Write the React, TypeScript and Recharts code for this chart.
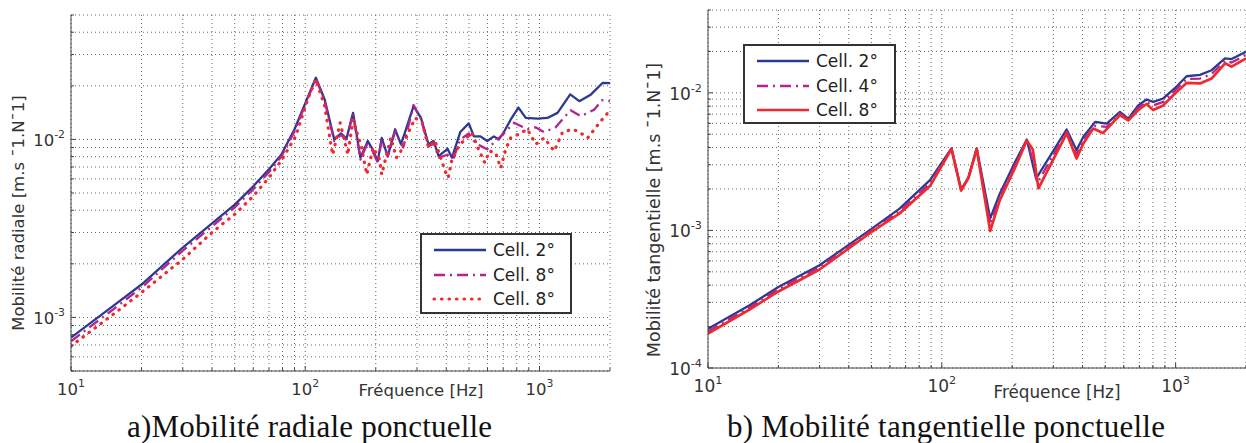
import React from 'react';
import { LineChart, Line, XAxis, YAxis, CartesianGrid, Legend } from 'recharts';

// frequency ticks (log axis, decades + minor)
const freqTicks = [10, 20, 30, 40, 50, 60, 70, 80, 90, 100, 200, 300, 400, 500, 600, 700, 800, 900, 1000, 2000];
const radialTicks = [
  0.0005, 0.0006, 0.0007, 0.0008, 0.0009,
  0.001, 0.002, 0.003, 0.004, 0.005, 0.006, 0.007, 0.008, 0.009,
  0.01, 0.02, 0.03, 0.04, 0.05,
];
const tangTicks = [
  0.0001, 0.0002, 0.0003, 0.0004, 0.0005, 0.0006, 0.0007, 0.0008, 0.0009,
  0.001, 0.002, 0.003, 0.004, 0.005, 0.006, 0.007, 0.008, 0.009,
  0.01, 0.02, 0.03, 0.04,
];

// a) radial mobility
const radF2 = [10, 15, 20, 30, 40, 50, 60, 70, 79, 90, 111, 121, 133, 142, 150, 160, 172, 185, 192, 204, 212, 225, 242, 256, 265, 290, 312, 336, 353, 371, 405, 423, 459, 499, 525, 560, 598, 639, 671, 705, 753, 813, 874, 980, 1081, 1194, 1353, 1479, 1660, 1862, 2000];
const radV2 = [7.7e-4, 1.15e-3, 1.53e-3, 2.47e-3, 3.38e-3, 4.3e-3, 5.45e-3, 6.8e-3, 8.2e-3, 1.14e-2, 2.22e-2, 1.68e-2, 1.0e-2, 1.08e-2, 1.01e-2, 1.41e-2, 7.9e-3, 9.8e-3, 9.0e-3, 7.55e-3, 1.02e-2, 8.06e-3, 1.14e-2, 9.4e-3, 1.07e-2, 1.54e-2, 1.32e-2, 9.4e-3, 9.8e-3, 8.06e-3, 8.86e-3, 7.9e-3, 1.1e-2, 1.23e-2, 1.04e-2, 1.04e-2, 9.8e-3, 1.04e-2, 1.0e-2, 1.1e-2, 1.29e-2, 1.51e-2, 1.32e-2, 1.31e-2, 1.32e-2, 1.41e-2, 1.79e-2, 1.64e-2, 1.79e-2, 2.08e-2, 2.07e-2];

const radF8a = [10, 15, 20, 30, 40, 50, 60, 70, 79, 90, 111, 121, 133, 142, 150, 160, 172, 185, 192, 204, 212, 225, 242, 262, 290, 312, 336, 353, 371, 405, 423, 459, 499, 525, 560, 598, 639, 705, 778, 888, 961, 1047, 1172, 1358, 1500, 1714, 1845, 2000];
const radV8a = [7.35e-4, 1.1e-3, 1.47e-3, 2.37e-3, 3.25e-3, 4.15e-3, 5.25e-3, 6.55e-3, 8.0e-3, 1.11e-2, 2.2e-2, 1.65e-2, 9.8e-3, 1.06e-2, 9.9e-3, 1.4e-2, 7.7e-3, 9.6e-3, 8.8e-3, 7.4e-3, 9.9e-3, 8.0e-3, 1.11e-2, 9.0e-3, 1.56e-2, 1.3e-2, 9.1e-3, 9.6e-3, 7.9e-3, 8.2e-3, 7.4e-3, 1.0e-2, 1.08e-2, 9.8e-3, 9.2e-3, 8.8e-3, 9.6e-3, 1.08e-2, 1.24e-2, 1.14e-2, 1.17e-2, 1.1e-2, 1.17e-2, 1.46e-2, 1.35e-2, 1.47e-2, 1.66e-2, 1.64e-2];

const radF8b = [10, 15, 20, 30, 40, 50, 60, 70, 79, 91, 103, 111, 121, 129, 131, 141, 152, 160, 174, 183, 195, 208, 212, 232, 245, 255, 276, 295, 316, 336, 358, 396, 408, 423, 444, 473, 515, 545, 584, 612, 650, 683, 718, 753, 815, 888, 966, 1047, 1156, 1255, 1387, 1479, 1607, 1803, 1958, 2000];
const radV8b = [6.9e-4, 1.03e-3, 1.38e-3, 2.12e-3, 3.0e-3, 3.8e-3, 4.8e-3, 6.1e-3, 7.6e-3, 1.04e-2, 1.71e-2, 2.17e-2, 1.54e-2, 9.2e-3, 8.2e-3, 1.24e-2, 8.2e-3, 1.29e-2, 9.0e-3, 6.35e-3, 9.0e-3, 7.7e-3, 6.35e-3, 1.02e-2, 7.9e-3, 8.5e-3, 1.1e-2, 1.32e-2, 1.24e-2, 9.0e-3, 9.8e-3, 6.6e-3, 6.1e-3, 7.7e-3, 8.8e-3, 9.8e-3, 1.09e-2, 9.0e-3, 7.4e-3, 8.6e-3, 8.4e-3, 6.9e-3, 8.8e-3, 1.02e-2, 1.07e-2, 1.14e-2, 9.4e-3, 1.02e-2, 8.6e-3, 1.1e-2, 1.14e-2, 1.1e-2, 1.02e-2, 1.24e-2, 1.41e-2, 1.35e-2];

// b) tangential mobility
const tanF2 = [10, 15, 20, 30, 49, 66, 89, 110, 121, 130, 141, 161, 177, 206, 231, 253, 342, 377, 403, 453, 507, 578, 627, 692, 751, 802, 885, 993, 1114, 1271, 1425, 1626, 1735, 2000];
const tanV2 = [1.93e-4, 2.85e-4, 3.88e-4, 5.58e-4, 1.0e-3, 1.44e-3, 2.32e-3, 3.95e-3, 1.98e-3, 2.43e-3, 3.95e-3, 1.22e-3, 1.85e-3, 3.15e-3, 4.58e-3, 2.38e-3, 5.42e-3, 3.83e-3, 4.8e-3, 6.15e-3, 5.98e-3, 7.27e-3, 6.5e-3, 8.1e-3, 8.95e-3, 8.6e-3, 9.1e-3, 1.08e-2, 1.32e-2, 1.35e-2, 1.46e-2, 1.78e-2, 1.76e-2, 1.99e-2];

const tanF4 = [10, 15, 20, 30, 49, 66, 89, 110, 121, 130, 141, 161, 177, 206, 231, 248, 256, 342, 377, 403, 453, 507, 578, 627, 692, 751, 802, 885, 993, 1114, 1271, 1425, 1626, 1735, 2000];
const tanV4 = [1.85e-4, 2.74e-4, 3.74e-4, 5.4e-4, 9.75e-4, 1.38e-3, 2.2e-3, 3.93e-3, 1.96e-3, 2.42e-3, 3.93e-3, 1.1e-3, 1.75e-3, 3.0e-3, 4.55e-3, 3.0e-3, 2.2e-3, 5.25e-3, 3.55e-3, 4.55e-3, 5.75e-3, 5.65e-3, 7.1e-3, 6.4e-3, 7.8e-3, 8.6e-3, 8.1e-3, 8.6e-3, 1.04e-2, 1.26e-2, 1.27e-2, 1.37e-2, 1.72e-2, 1.66e-2, 1.89e-2];

const tanF8 = [10, 15, 20, 30, 49, 66, 89, 110, 121, 130, 141, 161, 177, 206, 231, 245, 259, 342, 377, 403, 444, 489, 578, 627, 692, 751, 802, 885, 993, 1114, 1271, 1425, 1626, 1735, 2000];
const tanV8 = [1.78e-4, 2.65e-4, 3.6e-4, 5.2e-4, 9.5e-4, 1.33e-3, 2.1e-3, 3.9e-3, 1.95e-3, 2.4e-3, 3.9e-3, 9.9e-4, 1.66e-3, 2.87e-3, 4.5e-3, 3.87e-3, 2.02e-3, 5.07e-3, 3.33e-3, 4.28e-3, 5.5e-3, 5.1e-3, 6.9e-3, 6.3e-3, 7.5e-3, 8.3e-3, 7.5e-3, 8.1e-3, 9.9e-3, 1.18e-2, 1.17e-2, 1.27e-2, 1.64e-2, 1.55e-2, 1.78e-2];

const BLUE = '#2b3990';
const MAGENTA = '#b3248f';
const RED = '#ee2a30';
const SANS = 'DejaVu Sans';
const SERIF = 'Liberation Serif';

const pts = (f: number[], v: number[]) => f.map((x, i) => ({ f: x, v: v[i] }));

type Serie = { name: string; f: number[]; v: number[]; color: string; dash?: string; width: number; round?: boolean };

const radialSeries: Serie[] = [
  { name: 'Cell. 2°', f: radF2, v: radV2, color: BLUE, width: 2.3 },
  { name: 'Cell. 8°', f: radF8a, v: radV8a, color: MAGENTA, dash: '11 5 2 5', width: 2.3 },
  { name: 'Cell. 8°', f: radF8b, v: radV8b, color: RED, dash: '0.5 7', width: 3.2, round: true },
];
const tangSeries: Serie[] = [
  { name: 'Cell. 2°', f: tanF2, v: tanV2, color: BLUE, width: 2.3 },
  { name: 'Cell. 4°', f: tanF4, v: tanV4, color: MAGENTA, dash: '11 5 2 5', width: 2.3 },
  { name: 'Cell. 8°', f: tanF8, v: tanV8, color: RED, width: 2.7 },
];

function decade(v: number) {
  const l = Math.log10(v);
  const e = Math.round(l);
  return Math.abs(l - e) < 1e-6 ? e : null;
}

function XTick(props: any) {
  const { x, y, payload, fs } = props;
  const e = decade(payload.value);
  return (
    <g>
      <line x1={x} x2={x} y1={y} y2={y - (e !== null ? 5 : 3)} stroke="#444" />
      {e !== null && (
        <text x={x} y={y + 24} textAnchor="middle" fontFamily={SANS} fontSize={fs} fill="#333">
          10<tspan dy={-8} fontSize={fs * 0.66}>{e}</tspan>
        </text>
      )}
    </g>
  );
}

function YTick(props: any) {
  const { x, y, payload, fs } = props;
  const e = decade(payload.value);
  return (
    <g>
      <line x1={x} x2={x + (e !== null ? 5 : 3)} y1={y} y2={y} stroke="#444" />
      {e !== null && (
        <text x={x - 6} y={y + 7} textAnchor="end" fontFamily={SANS} fontSize={fs} fill="#333">
          10<tspan dy={-8} fontSize={fs * 0.66}>{e}</tspan>
        </text>
      )}
    </g>
  );
}

function LegendBox({ items }: { items: Serie[] }) {
  return (
    <div style={{ width: '100%', height: '100%', boxSizing: 'border-box', border: '2px solid #333', background: '#fff', padding: '3px 0 0 10px' }}>
      {items.map((s, i) => (
        <div key={i} style={{ display: 'flex', alignItems: 'center', height: 24.5 }}>
          <svg width={55} height={8}>
            <line x1={2} x2={54} y1={4} y2={4} stroke={s.color} strokeWidth={s.width} strokeDasharray={s.dash} strokeLinecap={s.round ? 'round' : 'butt'} />
          </svg>
          <span style={{ marginLeft: 6, fontFamily: SANS, fontSize: 17, color: '#222', lineHeight: '20px' }}>{s.name}</span>
        </div>
      ))}
    </div>
  );
}

function Panel(props: {
  series: Serie[]; yTicks: number[]; yDomain: [number, number]; width: number;
  margin: any; yWidth: number; fs: number; legendPos: any;
}) {
  const { series, yTicks, yDomain, width, margin, yWidth, fs, legendPos } = props;
  return (
    <LineChart width={width} height={443} margin={margin}>
      <CartesianGrid stroke="#666" strokeDasharray="1 3" />
      <XAxis
        dataKey="f" type="number" scale="log" domain={[10, 2000]} allowDataOverflow
        ticks={freqTicks} interval={0} height={30} tickSize={0} tickMargin={0} tickLine={false}
        axisLine={{ stroke: '#444' }} tick={<XTick fs={fs} />}
      />
      <YAxis
        type="number" scale="log" domain={yDomain} allowDataOverflow
        ticks={yTicks} interval={0} width={yWidth} tickSize={0} tickMargin={0} tickLine={false}
        axisLine={{ stroke: '#444' }} tick={<YTick fs={fs} />}
      />
      <Legend
        layout="vertical" align="center" verticalAlign="middle"
        wrapperStyle={legendPos}
        content={() => <LegendBox items={series} />}
      />
      {series.map((s, i) => (
        <Line
          key={i} data={pts(s.f, s.v)} dataKey="v" name={s.name} type="linear" dot={false}
          stroke={s.color} strokeWidth={s.width} strokeDasharray={s.dash}
          strokeLinecap={s.round ? 'round' : 'butt'} strokeLinejoin="round" isAnimationActive={false}
        />
      ))}
    </LineChart>
  );
}

export default function App() {
  return (
    <div style={{ position: 'absolute', left: 0, top: 0, width: 1246, height: 443, background: '#fff', overflow: 'hidden' }}>
      <div style={{ position: 'absolute', left: 0, top: 0 }}>
        <Panel
          series={radialSeries} yTicks={radialTicks} yDomain={[0.0005, 0.05]} width={620}
          margin={{ top: 15, right: 10, bottom: 42, left: 0 }} yWidth={71} fs={16.5}
          legendPos={{ left: 420, top: 233, width: 152, height: 81 }}
        />
      </div>
      <div style={{ position: 'absolute', left: 620, top: 0 }}>
        <Panel
          series={tangSeries} yTicks={tangTicks} yDomain={[0.0001, 0.04]} width={626}
          margin={{ top: 10, right: 0, bottom: 45, left: 0 }} yWidth={88} fs={17}
          legendPos={{ left: 123, top: 44, width: 153, height: 80 }}
        />
      </div>
      <svg width={1246} height={443} style={{ position: 'absolute', left: 0, top: 0, pointerEvents: 'none' }}>
        <text transform="translate(24,213) rotate(-90)" textAnchor="middle" fontFamily={SANS} fontSize={16.5} fill="#333">
          Mobilité radiale [m.s ¯1.N¯1]
        </text>
        <text transform="translate(660,210) rotate(-90)" textAnchor="middle" fontFamily={SANS} fontSize={17.5} fill="#333">
          Mobilité tangentielle [m.s ¯1.N¯1]
        </text>
        <text x={421} y={396} textAnchor="middle" fontFamily={SANS} fontSize={16.5} fill="#333">Fréquence [Hz]</text>
        <text x={1057} y={398} textAnchor="middle" fontFamily={SANS} fontSize={16.8} fill="#333">Fréquence [Hz]</text>
        <text x={309.5} y={437} textAnchor="middle" fontFamily={SERIF} fontSize={31} fill="#111" textLength={365} lengthAdjust="spacing">a)Mobilité radiale ponctuelle</text>
        <text x={946} y={437} textAnchor="middle" fontFamily={SERIF} fontSize={31} fill="#111" textLength={438} lengthAdjust="spacing">b) Mobilité tangentielle ponctuelle</text>
      </svg>
    </div>
  );
}
